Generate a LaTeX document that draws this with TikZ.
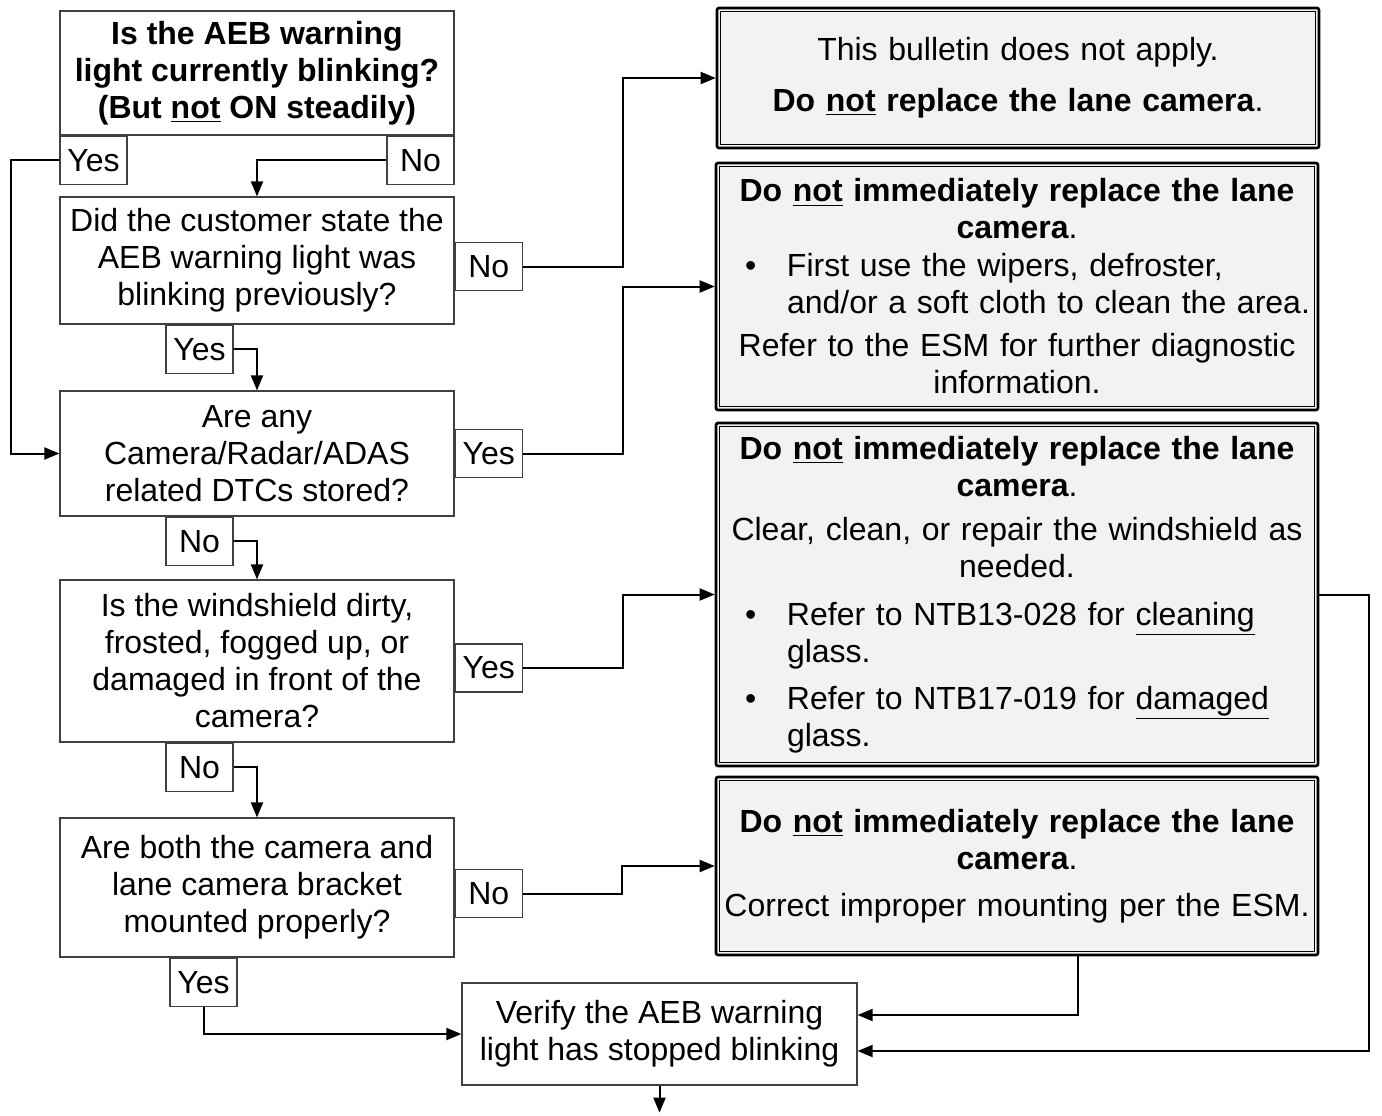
\documentclass[tikz,border=0pt]{standalone}
\usepackage{fontspec}
\setmainfont{Liberation Sans}
\usepackage{tikz}
\usetikzlibrary{arrows.meta,positioning}
\tikzset{
  every node/.style={font=\fontsize{16pt}{18.5pt}\selectfont},
  qbox/.style={draw=black!75,line width=0.6pt,align=center,minimum width=197pt,inner sep=0pt},
  lbl/.style={draw=black!75,line width=0.6pt,minimum width=33.5pt,minimum height=24pt,inner sep=1pt},
  rbox/.style={draw,line width=1.3pt,rounded corners=1pt,fill=black!5,align=center,
    text width=298pt,minimum width=301pt,inner sep=0pt},
  innerframe/.style={line width=0.5pt},
  conn/.style={line width=1pt}
}
\tikzstyle{arrow} = [line width=1pt,-{Triangle[length=7.5pt,width=6pt]}]
\newcommand{\bitem}[1]{\makebox[298pt][l]{\hspace*{13pt}\makebox[21pt][l]{\textbullet}#1}}
\newcommand{\bcont}[1]{\makebox[298pt][l]{\hspace*{34pt}#1}}

\begin{document}
\begin{tikzpicture}[x=0.5pt,y=-0.5pt]
  \useasboundingbox (0,0) rectangle (1382,1115);
  % questions
  \node[qbox,minimum height=62pt,font=\fontsize{16pt}{18.5pt}\selectfont\bfseries] (q1) at (257,73)
    {Is the AEB warning\\light currently blinking?\\(But \underline{not} ON steadily)};
  \node[qbox,minimum height=63.5pt] (q2) at (257,260.5)
    {Did the customer state the\\AEB warning light was\\blinking previously?};
  \node[qbox,minimum height=62.5pt] (q3) at (257,453.5)
    {Are any\\Camera/Radar/ADAS\\related DTCs stored?};
  \node[qbox,minimum height=81pt] (q4) at (257,661)
    {Is the windshield dirty,\\frosted, fogged up, or\\damaged in front of the\\camera?};
  \node[qbox,minimum height=69.5pt] (q5) at (257,887.5)
    {Are both the camera and\\lane camera bracket\\mounted properly?};
  \node[qbox,minimum width=197.5pt,minimum height=51pt] (v) at (659.5,1034)
    {Verify the AEB warning\\light has stopped blinking};

  % answers
  \node[lbl,anchor=north west] (q1y) at (q1.south west) {Yes};
  \node[lbl,anchor=north east] (q1n) at (q1.south east) {No};
  \node[lbl,anchor=west,yshift=-3pt] (q2n) at (q2.east) {No};
  \node[lbl,anchor=north west,xshift=53pt] (q2y) at (q2.south west) {Yes};
  \node[lbl,anchor=west] (q3y) at (q3.east) {Yes};
  \node[lbl,anchor=north west,xshift=53pt] (q3n) at (q3.south west) {No};
  \node[lbl,anchor=west,yshift=-3.5pt] (q4y) at (q4.east) {Yes};
  \node[lbl,anchor=north west,xshift=53pt] (q4n) at (q4.south west) {No};
  \node[lbl,anchor=west,yshift=-3pt] (q5n) at (q5.east) {No};
  \node[lbl,anchor=north west,xshift=55pt] (q5y) at (q5.south west) {Yes};

  % results
  \node[rbox,minimum height=70pt] (r1) at (1018,78)
    {This bulletin does not apply.\\[7pt]
     \textbf{Do \underline{not} replace the lane camera}.};
  \node[rbox,minimum height=123.5pt] (r2) at (1017,286.5)
    {\textbf{Do \underline{not} immediately replace the lane}\\\textbf{camera}.\\[0.5pt]
     \bitem{First use the wipers, defroster,}\\\bcont{and/or a soft cloth to clean the area.}\\[3pt]
     Refer to the ESM for further diagnostic\\information.};
  \node[rbox,minimum height=171.5pt] (r3) at (1017,594.5)
    {\textbf{Do \underline{not} immediately replace the lane}\\\textbf{camera}.\\[3.5pt]
     Clear, clean, or repair the windshield as\\needed.\\[5.5pt]
     \bitem{Refer to NTB13-028 for \underline{cleaning}}\\\bcont{glass.}\\[5pt]
     \bitem{Refer to NTB17-019 for \underline{damaged}}\\\bcont{glass.}};
  \node[rbox,minimum height=89pt] (r4) at (1017,866)
    {\textbf{Do \underline{not} immediately replace the lane}\\\textbf{camera}.\\[5pt]
     Correct improper mounting per the ESM.};
  \foreach \n in {r1,r2,r3,r4}
    \draw[innerframe] ([shift={(2.5pt,-2.5pt)}]\n.north west) rectangle ([shift={(-2.5pt,2.5pt)}]\n.south east);

  % connectors
  \draw[arrow] (q1y.west) -- ++(-48,0) |- (q3.west);
  \draw[arrow] (q1n.west) -| (q2.north);
  \draw[arrow] (q2n.east) -- ++(100,0) |- (r1.west);
  \draw[arrow] (q2y.east) -| (q3.north);
  \draw[arrow] (q3y.east) -- ++(100,0) |- (r2.west);
  \draw[arrow] (q3n.east) -| (q4.north);
  \draw[arrow] (q4y.east) -- ++(100,0) |- (r3.west);
  \draw[arrow] (q4n.east) -| (q5.north);
  \draw[arrow] (q5n.east) -- ++(99,0) |- (r4.west);
  \draw[arrow] (q5y.south) |- (v.west);
  \draw[arrow] ([xshift=30.5pt]r4.south) |- ([yshift=9.5pt]v.east);
  \draw[arrow] (r3.east) -- ++(50,0) |- ([yshift=-8.5pt]v.east);
  \draw[arrow] (v.south) -- ++(0,27);
\end{tikzpicture}
\end{document}
